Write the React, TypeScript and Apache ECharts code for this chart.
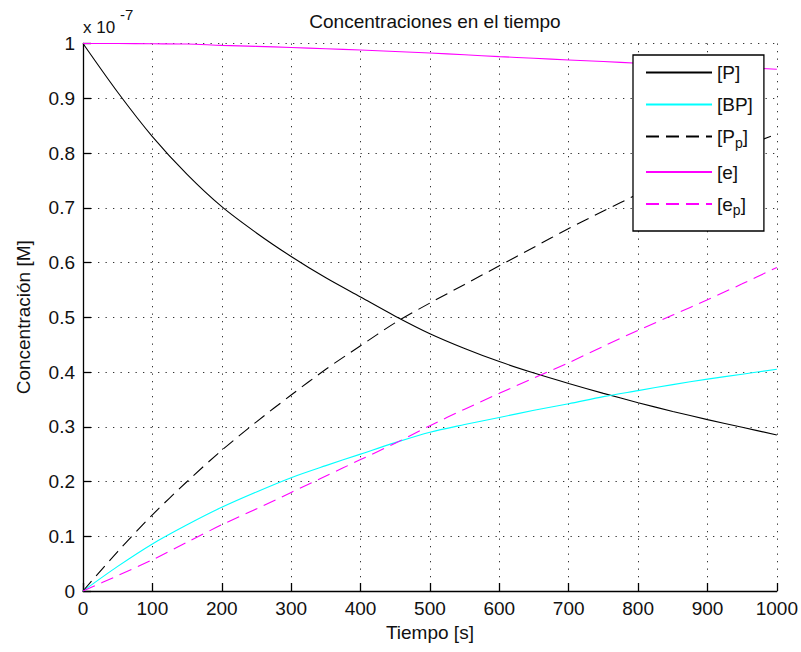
import React, { useEffect, useRef } from "react";
import * as echarts from "echarts";

const times = [0, 50, 100, 150, 200, 250, 300, 350, 400, 450, 500, 550, 600, 650, 700, 750, 800, 850, 900, 950, 1000];
const seriesP = [1.0, 0.911, 0.83, 0.761, 0.702, 0.654, 0.611, 0.572, 0.537, 0.502, 0.47, 0.443, 0.419, 0.398, 0.379, 0.361, 0.344, 0.328, 0.313, 0.299, 0.285];
const seriesBP = [0, 0.045, 0.086, 0.121, 0.153, 0.181, 0.207, 0.229, 0.25, 0.271, 0.29, 0.304, 0.317, 0.33, 0.342, 0.355, 0.366, 0.377, 0.387, 0.396, 0.405];
const seriesPp = [0, 0.072, 0.139, 0.2, 0.257, 0.309, 0.358, 0.405, 0.448, 0.49, 0.526, 0.56, 0.594, 0.628, 0.662, 0.694, 0.725, 0.755, 0.783, 0.81, 0.835];
const seriesE = [1.0, 1.0, 0.9995, 0.999, 0.9965, 0.9948, 0.9927, 0.9905, 0.988, 0.9855, 0.9826, 0.9795, 0.976, 0.973, 0.97, 0.967, 0.964, 0.961, 0.9585, 0.956, 0.953];
const seriesEp = [0, 0.028, 0.057, 0.089, 0.121, 0.15, 0.18, 0.21, 0.24, 0.27, 0.302, 0.332, 0.361, 0.389, 0.417, 0.447, 0.476, 0.504, 0.532, 0.561, 0.591];
const seriesNames = ["[P]", "[BP]", "[Pp]", "[e]", "[ep]"];
const titleText = "Concentraciones en el tiempo";
const xName = "Tiempo [s]";
const yName = "Concentración [M]";

const FONT = "Liberation Sans, Arial, sans-serif";

export default function App() {
  const ref = useRef<HTMLDivElement>(null);
  useEffect(() => {
    if (!ref.current) return;
    const chart = echarts.init(ref.current, undefined, { renderer: "svg" });
    const pair = (arr: number[]) => times.map((t, i) => [t, arr[i]]);
    const dash = [13, 7];
    const mk = (name: string, data: number[], color: string, dashed: boolean) => ({
      name,
      type: "line",
      data: pair(data),
      symbol: "none",
      showSymbol: false,
      smooth: 0.3,
      lineStyle: { color, width: 1.1, type: dashed ? dash : "solid" },
      itemStyle: { color },
      emphasis: { disabled: true },
    });
    chart.setOption({
      animation: false,
      backgroundColor: "#ffffff",
      textStyle: { fontFamily: FONT },
      title: {
        text: titleText,
        left: 430,
        textAlign: "center",
        top: 7,
        textStyle: { fontFamily: FONT, fontSize: 19, fontWeight: "normal", color: "#111" },
      },
      grid: { left: 83, right: 23, top: 43.5, bottom: 61, containLabel: false },
      xAxis: {
        type: "value",
        min: 0,
        max: 1000,
        interval: 100,
        name: xName,
        nameLocation: "middle",
        nameGap: 31,
        nameTextStyle: { fontFamily: FONT, fontSize: 19, color: "#111" },
        axisLine: { show: true, onZero: false, lineStyle: { color: "#000", width: 1.3 } },
        axisTick: { show: true, inside: true, length: 8, lineStyle: { color: "#000", width: 1.3 } },
        axisLabel: { fontFamily: FONT, fontSize: 19, color: "#111", margin: 8, formatter: (v: number) => String(Math.round(v)) },
        splitLine: { show: true, lineStyle: { color: "#333", width: 1, type: [1.3, 6.2] } },
      },
      yAxis: {
        type: "value",
        min: 0,
        max: 1,
        interval: 0.1,
        name: yName,
        nameLocation: "middle",
        nameGap: 50,
        nameTextStyle: { fontFamily: FONT, fontSize: 19, color: "#111" },
        axisLine: { show: true, onZero: false, lineStyle: { color: "#000", width: 1.3 } },
        axisTick: { show: true, inside: true, length: 8, lineStyle: { color: "#000", width: 1.3 } },
        axisLabel: {
          fontFamily: FONT,
          fontSize: 19,
          color: "#111",
          margin: 8,
          formatter: (v: number) => (Math.abs(v) < 1e-9 ? "0" : Math.abs(v - 1) < 1e-9 ? "1" : v.toFixed(1)),
        },
        splitLine: { show: true, lineStyle: { color: "#333", width: 1, type: [1.3, 6.2] } },
      },
      legend: {
        show: true,
        orient: "vertical",
        left: 633,
        top: 55,
        padding: [8, 11, 14, 12],
        itemGap: 13,
        itemWidth: 66,
        itemHeight: 14,
        backgroundColor: "#ffffff",
        borderColor: "#000",
        borderWidth: 1.3,
        selectedMode: false,
        itemStyle: { opacity: 0 },
        data: seriesNames,
        formatter: (name: string) =>
          name === "[Pp]" ? "[P{sub|p}]" : name === "[ep]" ? "[e{sub|p}]" : name,
        textStyle: {
          fontFamily: FONT,
          fontSize: 19,
          color: "#111",
          rich: {
            sub: { fontFamily: FONT, fontSize: 14, color: "#111", padding: [12, 0, 0, 0] },
          },
        },
      },
      graphic: [
        {
          type: "text",
          left: 83,
          top: 19,
          style: { text: "x 10", fontFamily: FONT, fontSize: 17, fill: "#111" },
        },
        {
          type: "text",
          left: 120,
          top: 7,
          style: { text: "-7", fontFamily: FONT, fontSize: 15, fill: "#111" },
        },
      ],
      series: [
        mk(seriesNames[0], seriesP, "#000000", false),
        mk(seriesNames[1], seriesBP, "#00ffff", false),
        mk(seriesNames[2], seriesPp, "#000000", true),
        mk(seriesNames[3], seriesE, "#ff00ff", false),
        mk(seriesNames[4], seriesEp, "#ff00ff", true),
      ],
    });
    return () => chart.dispose();
  }, []);
  return (
    <div
      ref={ref}
      style={{ position: "fixed", left: 0, top: 0, width: 801, height: 652, background: "#fff" }}
    />
  );
}
